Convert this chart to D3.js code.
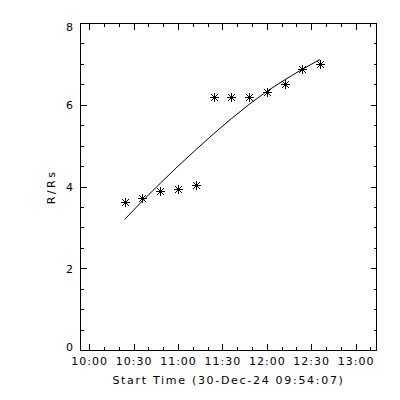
<!DOCTYPE html>
<html>
<head>
<meta charset="utf-8">
<script src="https://cdn.jsdelivr.net/npm/d3@7"></script>
<style>
  html, body { margin: 0; padding: 0; background: #fff; }
  svg { display: block; }
  text { font-family: "DejaVu Sans", sans-serif; font-size: 11px; fill: #000; }
</style>
</head>
<body>
<svg id="chart" width="400" height="400"></svg>
<script>
// ---- data ----
const obsDate = "2024-12-30";
const startLabel = "Start Time (30-Dec-24 09:54:07)";
const yLabel = "R/Rs";
const times = ["10:24","10:36","10:48","11:00","11:12","11:24","11:36","11:48","12:00","12:12","12:24","12:36"];
const heights = [3.63, 3.74, 3.89, 3.94, 4.05, 6.19, 6.19, 6.21, 6.33, 6.51, 6.89, 7.01];
const fitHeights = [3.21, 3.66, 4.09, 4.51, 4.91, 5.30, 5.67, 6.02, 6.34, 6.62, 6.88, 7.12];
const xRange = ["09:54:07", "13:14:07"];
const xTickLabels = ["10:00","10:30","11:00","11:30","12:00","12:30","13:00"];
const yTickLabels = [0, 2, 4, 6, 8];
const yDomain = [0, 8];

// ---- setup ----
const parse = s => new Date(obsDate + "T" + (s.length === 5 ? s + ":00" : s) + "Z");
const svg = d3.select("#chart");
const L = 80.5, R = 376.5, T = 23.5, B = 350.5;

const x = d3.scaleUtc().domain(xRange.map(parse)).range([L, R]);
const y = d3.scaleLinear().domain(yDomain).range([B, T]);

const g = svg.append("g").attr("shape-rendering", "crispEdges");

// box
g.append("rect").attr("x", L).attr("y", T).attr("width", R - L).attr("height", B - T)
  .attr("fill", "none").attr("stroke", "#000").attr("stroke-width", 1);

// x ticks
const xMajor = xTickLabels.map(parse);
const xMinor = d3.utcMinute.every(10).range(x.domain()[0], x.domain()[1]);
const xMajLen = 6.5, xMinLen = 3.3, yMajLen = 6, yMinLen = 3;
function xTicks(vals, len) {
  vals.forEach(v => {
    const px = Math.round(x(v)) + 0.5;
    g.append("line").attr("x1", px).attr("x2", px).attr("y1", B).attr("y2", B - len).attr("stroke", "#000");
    g.append("line").attr("x1", px).attr("x2", px).attr("y1", T).attr("y2", T + len).attr("stroke", "#000");
  });
}
xTicks(xMinor, xMinLen);
xTicks(xMajor, xMajLen);

// y ticks
const yMinor = d3.range(yDomain[0], yDomain[1] + 0.001, 0.5);
function yTicks(vals, len) {
  vals.forEach(v => {
    const py = Math.round(y(v) - 0.5) + 0.5;
    g.append("line").attr("x1", L).attr("x2", L + len).attr("y1", py).attr("y2", py).attr("stroke", "#000");
    g.append("line").attr("x1", R).attr("x2", R - len).attr("y1", py).attr("y2", py).attr("stroke", "#000");
  });
}
yTicks(yMinor, yMinLen);
yTicks(yTickLabels, yMajLen);

// x tick labels
svg.append("g").selectAll("text").data(xTickLabels).join("text")
  .attr("x", d => x(parse(d)) + 0.5)
  .attr("y", 365)
  .attr("text-anchor", "middle")
  .attr("letter-spacing", "1px")
  .text(d => d);

// y tick labels
svg.append("g").selectAll("text").data(yTickLabels).join("text")
  .attr("x", 74)
  .attr("y", d => Math.max(T + 3.5, Math.min(B - 3, y(d))))
  .attr("dy", "0.36em")
  .attr("text-anchor", "end")
  .attr("letter-spacing", "1px")
  .text(d => d);

// axis titles
svg.append("text").attr("x", (L + R) / 2).attr("y", 384)
  .attr("text-anchor", "middle").attr("letter-spacing", "1.7px")
  .text(startLabel);
svg.append("text").attr("transform", `translate(55,${(T + B) / 2}) rotate(-90)`)
  .attr("text-anchor", "middle").attr("letter-spacing", "2.5px")
  .text(yLabel);

// fit line
const tParsed = times.map(parse);
svg.append("path")
  .datum(tParsed.map((t, i) => [t, fitHeights[i]]))
  .attr("fill", "none").attr("stroke", "#000").attr("stroke-width", 1)
  .attr("d", d3.line().x(d => x(d[0])).y(d => y(d[1])));

// asterisks
const star = "M-4.5,0H4.5M0,-4.5V4.5M-3.5,-3.5L3.5,3.5M-3.5,3.5L3.5,-3.5M-1,-1H1V1H-1Z";
svg.append("g").attr("shape-rendering", "crispEdges").selectAll("path")
  .data(tParsed.map((t, i) => [t, heights[i]])).join("path")
  .attr("transform", d => `translate(${Math.round(x(d[0])) + 0.5},${Math.round(y(d[1])) + 0.5})`)
  .attr("d", star)
  .attr("fill", "#000").attr("stroke", "#000").attr("stroke-width", 1);
</script>
</body>
</html>
